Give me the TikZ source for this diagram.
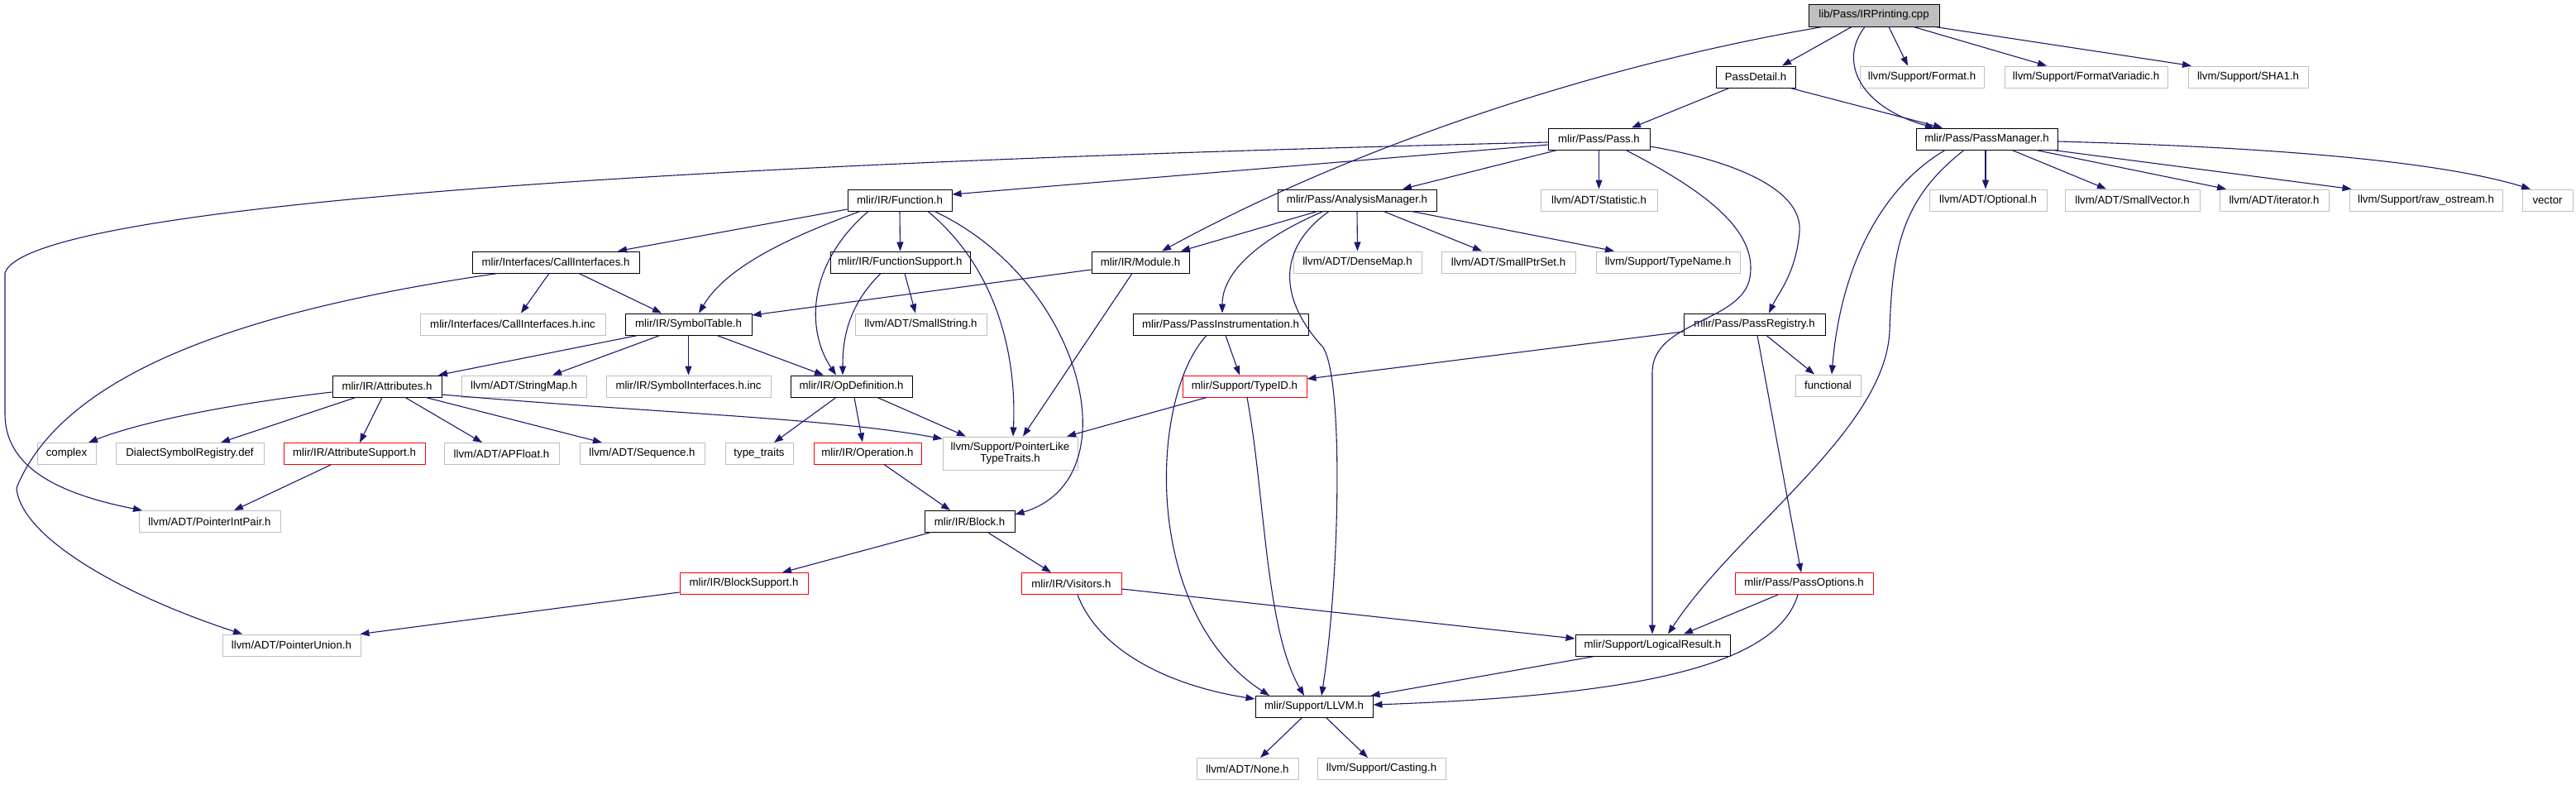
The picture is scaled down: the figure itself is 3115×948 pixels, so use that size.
\documentclass[tikz,border=0pt]{standalone}
\usepackage{fontspec}
\setmainfont{Liberation Sans}
\usetikzlibrary{arrows.meta}
\definecolor{edgeblue}{HTML}{191970}
\definecolor{greyseventyfive}{HTML}{BFBFBF}
\newcommand\fsz{\fontsize{13.25pt}{13.4pt}\selectfont}
\tikzset{
  box/.style={rectangle, line width=1pt, minimum height=26pt, inner sep=0pt, font=\fsz, text=black, fill=white},
  blk/.style={box, draw=black},
  gry/.style={box, draw=greyseventyfive},
  rd/.style={box, draw=red},
  edge/.style={draw=edgeblue, line width=1.1pt, -{Triangle[length=11pt,width=8pt]}},
}
\begin{document}
\begin{tikzpicture}[x=1pt,y=-1pt]
\fill[white] (0,0) rectangle (3115,948);
\useasboundingbox (0,0) rectangle (3115,948);
% row 0
\node[blk, fill=greyseventyfive, minimum width=158pt, minimum height=27pt] (root) at (2266,18.5) {lib/Pass/IRPrinting.cpp};
% row 1
\node[blk, minimum width=96pt] (passdetail) at (2123,93) {PassDetail.h};
\node[gry, minimum width=150pt] (format) at (2324,93) {llvm/Support/Format.h};
\node[gry, minimum width=197pt] (formatvar) at (2522.5,93) {llvm/Support/FormatVariadic.h};
\node[gry, minimum width=145pt] (sha1) at (2718.5,93) {llvm/Support/SHA1.h};
% row 2
\node[blk, minimum width=123pt] (pass) at (1933.5,168) {mlir/Pass/Pass.h};
\node[blk, minimum width=171pt] (passmgr) at (2402.5,168) {mlir/Pass/PassManager.h};
% row 3
\node[blk, minimum width=126pt] (function) at (1088,242) {mlir/IR/Function.h};
\node[blk, minimum width=192pt] (analysis) at (1641,242) {mlir/Pass/AnalysisManager.h};
\node[gry, minimum width=141pt] (statistic) at (1933.5,242) {llvm/ADT/Statistic.h};
\node[gry, minimum width=142pt] (optional) at (2404,242) {llvm/ADT/Optional.h};
\node[gry, minimum width=163pt] (smallvec) at (2578.5,242) {llvm/ADT/SmallVector.h};
\node[gry, minimum width=132pt] (iterator) at (2750,242) {llvm/ADT/iterator.h};
\node[gry, minimum width=185pt] (rawostream) at (2933.5,242) {llvm/Support/raw\_ostream.h};
\node[gry, minimum width=61pt] (vector) at (3080.5,242) {vector};
% row 4
\node[blk, minimum width=202pt] (callif) at (672,317) {mlir/Interfaces/CallInterfaces.h};
\node[blk, minimum width=169pt] (funcsupport) at (1088.5,317) {mlir/IR/FunctionSupport.h};
\node[blk, minimum width=118pt] (module) at (1379,317) {mlir/IR/Module.h};
\node[gry, minimum width=155pt] (densemap) at (1641.5,317) {llvm/ADT/DenseMap.h};
\node[gry, minimum width=162pt] (smallptrset) at (1824,317) {llvm/ADT/SmallPtrSet.h};
\node[gry, minimum width=174pt] (typename) at (2017,317) {llvm/Support/TypeName.h};
% row 5
\node[gry, minimum width=224pt] (callifinc) at (620,392) {mlir/Interfaces/CallInterfaces.h.inc};
\node[blk, minimum width=153pt] (symtable) at (832.5,392) {mlir/IR/SymbolTable.h};
\node[gry, minimum width=159pt] (smallstring) at (1113.5,392) {llvm/ADT/SmallString.h};
\node[blk, minimum width=212pt] (passinstr) at (1476,392) {mlir/Pass/PassInstrumentation.h};
\node[blk, minimum width=171pt] (passreg) at (2121.5,392) {mlir/Pass/PassRegistry.h};
% row 6
\node[blk, minimum width=132pt] (attributes) at (468,467) {mlir/IR/Attributes.h};
\node[gry, minimum width=151pt] (stringmap) at (633.5,467) {llvm/ADT/StringMap.h};
\node[gry, minimum width=199pt] (symifinc) at (832.5,467) {mlir/IR/SymbolInterfaces.h.inc};
\node[blk, minimum width=147pt] (opdef) at (1029.5,467) {mlir/IR/OpDefinition.h};
\node[rd, minimum width=150pt] (typeid) at (1505,467) {mlir/Support/TypeID.h};
\node[gry, minimum width=79pt] (functional) at (2210.5,466) {functional};
% row 7
\node[gry, minimum width=71pt] (complex) at (80.5,548.5) {complex};
\node[gry, minimum width=179pt] (dialectreg) at (229.5,548.5) {DialectSymbolRegistry.def};
\node[rd, minimum width=171pt] (attrsupport) at (428.5,548.5) {mlir/IR/AttributeSupport.h};
\node[gry, minimum width=139pt] (apfloat) at (606.5,548.5) {llvm/ADT/APFloat.h};
\node[gry, minimum width=151pt] (sequence) at (776.5,548.5) {llvm/ADT/Sequence.h};
\node[gry, minimum width=82pt] (typetraits) at (918,548.5) {type\_traits};
\node[rd, minimum width=130pt] (operation) at (1049,548) {mlir/IR/Operation.h};
\node[gry, minimum width=163pt, minimum height=40pt, align=center] (ptrlike) at (1221.5,548) {llvm/Support/PointerLike\\TypeTraits.h};
% row 8
\node[gry, minimum width=171pt] (ptrintpair) at (253.5,630.5) {llvm/ADT/PointerIntPair.h};
\node[blk, minimum width=109pt] (block) at (1172.5,630.5) {mlir/IR/Block.h};
% row 9
\node[rd, minimum width=155pt] (blocksupport) at (899.5,705.5) {mlir/IR/BlockSupport.h};
\node[rd, minimum width=121pt] (visitors) at (1295.5,705.5) {mlir/IR/Visitors.h};
\node[rd, minimum width=167pt] (passoptions) at (2181.5,705.5) {mlir/Pass/PassOptions.h};
% row 10
\node[gry, minimum width=167pt] (ptrunion) at (352.5,780) {llvm/ADT/PointerUnion.h};
\node[blk, minimum width=187pt] (logical) at (1998.5,780) {mlir/Support/LogicalResult.h};
% row 11
\node[blk, minimum width=142pt] (llvm) at (1589,854.5) {mlir/Support/LLVM.h};
% row 12
\node[gry, minimum width=123pt] (none) at (1508.5,929.5) {llvm/ADT/None.h};
\node[gry, minimum width=155pt] (casting) at (1670.5,929.5) {llvm/Support/Casting.h};

% ---- edges ----
% root
\draw[edge] ([xshift=-27pt]root.south) -- ([xshift=32pt]passdetail.north);
\draw[edge] ([xshift=-62pt]root.south) .. controls (1950,75) and (1650,170) .. ([xshift=26pt]module.north);
\draw[edge] ([xshift=-11pt]root.south) .. controls (2222,75) and (2250,130) .. ([xshift=-63.5pt]passmgr.north);
\draw[edge] ([xshift=18pt]root.south) -- ([xshift=-17pt]format.north);
\draw[edge] ([xshift=48pt]root.south) -- ([xshift=-47.5pt]formatvar.north);
\draw[edge] ([xshift=74pt]root.south) -- ([xshift=-68.5pt]sha1.north);
% passdetail
\draw[edge] ([xshift=-32pt]passdetail.south) -- ([xshift=39.5pt]pass.north);
\draw[edge] ([xshift=42pt]passdetail.south) -- ([xshift=-53.5pt]passmgr.north);
% pass
\draw[edge] ([yshift=-4pt]pass.west) .. controls (700,200) and (30,255) .. (6,330) -- (6,500) .. controls (6,560) and (60,595) .. ([xshift=-81.5pt]ptrintpair.north);
\draw[edge] ([yshift=-7pt]pass.west) -- ([yshift=7pt]function.east);
\draw[edge] ([xshift=-50.5pt]pass.south) -- ([xshift=55pt]analysis.north);
\draw[edge] (pass.south) -- (statistic.north);
\draw[edge] ([xshift=32.5pt]pass.south) .. controls (2060,230) and (2130,280) .. (2115,340) .. controls (2100,390) and (1998,390) .. (1998,450) -- ([xshift=-0.5pt]logical.north);
\draw[edge] ([yshift=-9pt]pass.east) .. controls (2100,195) and (2180,230) .. (2176,280) .. controls (2172,330) and (2150,355) .. ([xshift=17.5pt]passreg.north);
% passmgr
\draw[edge] ([xshift=-50.5pt]passmgr.south) .. controls (2270,230) and (2225,330) .. ([xshift=4.5pt]functional.north);
\draw[edge] ([xshift=-27.5pt]passmgr.south) .. controls (2300,240) and (2288,300) .. (2285,400) .. controls (2280,520) and (2100,640) .. ([xshift=18.5pt]logical.north);
\draw[edge] ([xshift=-1.5pt]passmgr.south) -- ([xshift=-3pt]optional.north);
\draw[edge] ([xshift=30.5pt]passmgr.south) -- ([xshift=-31.5pt]smallvec.north);
\draw[edge] ([xshift=59.5pt]passmgr.south) -- ([xshift=-58pt]iterator.north);
\draw[edge] ([xshift=80pt]passmgr.south) -- ([xshift=-90pt]rawostream.north);
\draw[edge] ([yshift=-3pt]passmgr.east) .. controls (2750,178) and (2950,195) .. ([xshift=-20.5pt]vector.north);
% function
\draw[edge] ([yshift=-11pt]function.west) -- ([xshift=75pt]callif.north);
\draw[edge] ([xshift=-48pt]function.south) .. controls (960,285) and (880,320) .. ([xshift=12.5pt]symtable.north);
\draw[edge] ([xshift=-38pt]function.south) .. controls (975,320) and (975,400) .. ([xshift=-18.5pt]opdef.north);
\draw[edge] (function.south) -- (funcsupport.north);
\draw[edge] ([xshift=34pt]function.south) .. controls (1200,320) and (1230,420) .. ([xshift=3.5pt]ptrlike.north);
\draw[edge] ([xshift=42pt]function.south) .. controls (1310,340) and (1370,580) .. ([yshift=8.5pt]block.east);
% analysis
\draw[edge] ([xshift=-48pt]analysis.south) -- ([xshift=49pt]module.north);
\draw[edge] (analysis.south) -- (densemap.north);
\draw[edge] ([xshift=32pt]analysis.south) -- ([xshift=-32pt]smallptrset.north);
\draw[edge] ([xshift=66pt]analysis.south) -- ([xshift=-65pt]typename.north);
\draw[edge] ([xshift=-41pt]analysis.south) .. controls (1520,290) and (1478,330) .. ([xshift=2pt]passinstr.north);
\draw[edge] ([xshift=-34pt]analysis.south) .. controls (1545,300) and (1545,360) .. (1600,420) .. controls (1625,460) and (1620,700) .. ([xshift=9pt]llvm.north);
% callif
\draw[edge] ([xshift=-8pt]callif.south) -- ([xshift=10pt]callifinc.north);
\draw[edge] ([xshift=28pt]callif.south) -- ([xshift=-32.5pt]symtable.north);
\draw[edge] ([xshift=-70pt]callif.south) .. controls (330,370) and (80,440) .. (20,590) .. controls (25,650) and (150,720) .. ([xshift=-59.5pt]ptrunion.north);
% funcsupport
\draw[edge] ([xshift=-23.5pt]funcsupport.south) .. controls (1025,370) and (1019,410) .. ([xshift=-10.5pt]opdef.north);
\draw[edge] ([xshift=5.5pt]funcsupport.south) -- ([xshift=-6.5pt]smallstring.north);
% module
\draw[edge] ([yshift=-9pt]module.west) -- ([yshift=11pt]symtable.east);
\draw[edge] ([xshift=-10pt]module.south) -- ([xshift=15.5pt]ptrlike.north);
% symtable
\draw[edge] ([xshift=-61.5pt]symtable.south) -- ([xshift=62pt]attributes.north);
\draw[edge] ([xshift=-34.5pt]symtable.south) -- ([xshift=34.5pt]stringmap.north);
\draw[edge] (symtable.south) -- (symifinc.north);
\draw[edge] ([xshift=34.5pt]symtable.south) -- ([xshift=-33.5pt]opdef.north);
% passinstr
\draw[edge] ([xshift=6pt]passinstr.south) -- ([xshift=-6pt]typeid.north);
\draw[edge] ([xshift=-17pt]passinstr.south) .. controls (1390,480) and (1380,740) .. ([xshift=-54pt]llvm.north);
% passreg
\draw[edge] ([yshift=-9pt]passreg.west) -- ([yshift=9pt]typeid.east);
\draw[edge] ([xshift=14.5pt]passreg.south) -- ([xshift=-16.5pt]functional.north);
\draw[edge] ([xshift=3.5pt]passreg.south) -- ([xshift=-3.5pt]passoptions.north);
% attributes
\draw[edge] ([yshift=-7pt]attributes.west) .. controls (280,488) and (170,510) .. ([xshift=26.5pt]complex.north);
\draw[edge] ([xshift=-38pt]attributes.south) -- ([xshift=37.5pt]dialectreg.north);
\draw[edge] ([xshift=-6pt]attributes.south) -- ([xshift=6.5pt]attrsupport.north);
\draw[edge] ([xshift=22pt]attributes.south) -- ([xshift=-23.5pt]apfloat.north);
\draw[edge] ([xshift=47pt]attributes.south) -- ([xshift=-48.5pt]sequence.north);
\draw[edge] ([yshift=-10pt]attributes.east) .. controls (800,500) and (1000,505) .. ([yshift=-3pt]ptrlike.north west);
% opdef
\draw[edge] ([xshift=-18.5pt]opdef.south) -- ([xshift=18pt]typetraits.north);
\draw[edge] ([xshift=3.5pt]opdef.south) -- ([xshift=-6pt]operation.north);
\draw[edge] ([xshift=31.5pt]opdef.south) -- ([xshift=-53.5pt]ptrlike.north);
% typeid
\draw[edge] ([xshift=-46pt]typeid.south) -- ([xshift=68.5pt]ptrlike.north);
\draw[edge] ([xshift=3pt]typeid.south) .. controls (1530,600) and (1530,760) .. ([xshift=-12pt]llvm.north);
% lower
\draw[edge] ([xshift=-28.5pt]attrsupport.south) -- ([xshift=29.5pt]ptrintpair.north);
\draw[edge] ([xshift=20pt]operation.south) -- ([xshift=-23.5pt]block.north);
\draw[edge] ([xshift=-48.5pt]block.south) -- ([xshift=46.5pt]blocksupport.north);
\draw[edge] ([xshift=22.5pt]block.south) -- ([xshift=-24.5pt]visitors.north);
\draw[edge] ([yshift=-10.5pt]blocksupport.west) -- ([xshift=-1pt]ptrunion.north east);
\draw[edge] ([yshift=-6.5pt]visitors.east) -- ([yshift=8pt]logical.west);
\draw[edge] ([xshift=7.5pt]visitors.south) .. controls (1330,790) and (1420,830) .. ([yshift=9.5pt]llvm.west);
\draw[edge] ([xshift=-31.5pt]passoptions.south) -- ([xshift=37.5pt]logical.north);
\draw[edge] ([xshift=-7.5pt]passoptions.south) .. controls (2150,800) and (2000,840) .. ([yshift=2.5pt]llvm.east);
\draw[edge] ([xshift=-70.5pt]logical.south) -- ([xshift=-3pt]llvm.north east);
\draw[edge] ([xshift=-15pt]llvm.south) -- ([xshift=15.5pt]none.north);
\draw[edge] ([xshift=15pt]llvm.south) -- ([xshift=-16.5pt]casting.north);
\end{tikzpicture}
\end{document}
